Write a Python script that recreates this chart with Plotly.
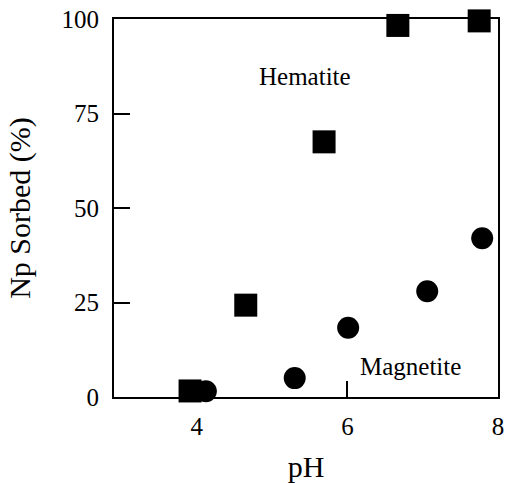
import plotly.graph_objects as go

hematite_ph = [3.91, 4.65, 5.69, 6.67, 7.75]
hematite_sorbed = [1.6, 24.3, 67.5, 98.3, 99.5]
magnetite_ph = [4.12, 5.30, 6.01, 7.06, 7.79]
magnetite_sorbed = [1.5, 5.0, 18.3, 28.0, 42.0]
x_ticks = [4, 6, 8]
y_ticks = [0, 25, 50, 75, 100]

FONT = "Liberation Serif, Times New Roman, serif"

fig = go.Figure()
fig.add_trace(go.Scatter(x=hematite_ph, y=hematite_sorbed, mode="markers",
                         marker=dict(symbol="square", size=23, color="black"),
                         name="Hematite", cliponaxis=False))
fig.add_trace(go.Scatter(x=magnetite_ph, y=magnetite_sorbed, mode="markers",
                         marker=dict(symbol="circle", size=22, color="black"),
                         name="Magnetite", cliponaxis=False))

fig.add_annotation(x=5.44, y=84.9, text="Hematite", showarrow=False,
                   font=dict(family=FONT, size=25, color="black"))
fig.add_annotation(x=6.84, y=8.2, text="Magnetite", showarrow=False,
                   font=dict(family=FONT, size=25, color="black"))

fig.update_layout(
    width=511, height=483,
    margin=dict(l=114, r=13, t=19, b=86),
    plot_bgcolor="white", paper_bgcolor="white",
    showlegend=False,
    font=dict(family=FONT, size=25, color="black"),
)
fig.update_xaxes(range=[2.9, 8], tickvals=x_ticks, ticks="inside", ticklen=16,
                 tickwidth=2, tickcolor="black", showline=True, linecolor="black",
                 linewidth=2, mirror=True, showgrid=False, zeroline=False,
                 ticklabelstandoff=6, automargin=False,
                 title=dict(text="pH", standoff=18),
                 tickfont=dict(family=FONT, size=25))
fig.update_yaxes(range=[0, 100], tickvals=y_ticks, ticks="inside", ticklen=16,
                 tickwidth=2, tickcolor="black", showline=True, linecolor="black",
                 linewidth=2, mirror=True, showgrid=False, zeroline=False,
                 ticklabelstandoff=8, automargin=False,
                 title=dict(text="Np Sorbed (%)", standoff=22),
                 tickfont=dict(family=FONT, size=25))

fig.write_html("out.html")
